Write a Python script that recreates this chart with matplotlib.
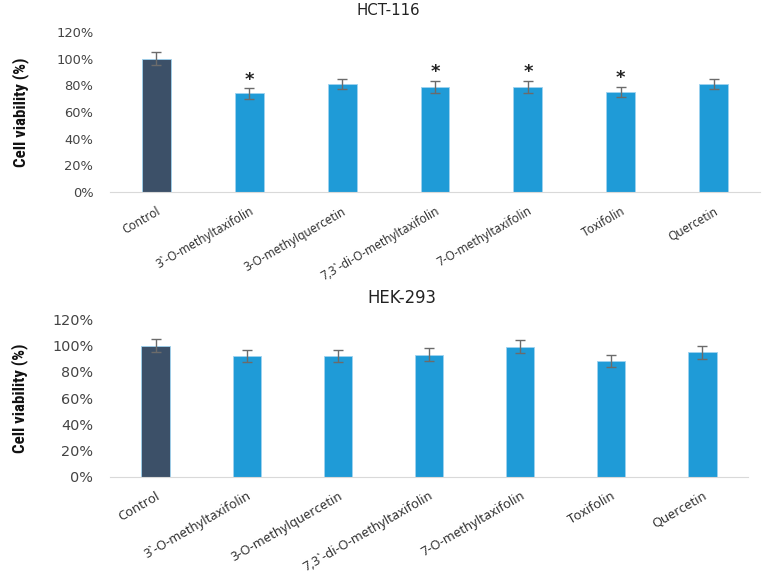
import matplotlib
matplotlib.use("Agg")
import matplotlib.pyplot as plt
import numpy as np
from matplotlib.ticker import FuncFormatter
from matplotlib import font_manager

categories = ["Control", "3`-O-methyltaxifolin", "3-O-methylquercetin",
              "7,3`-di-O-methyltaxifolin", "7-O-methyltaxifolin", "Toxifolin", "Quercetin"]
hct_values = [100, 74, 81, 79, 79, 75, 81]
hct_errors = [5, 4, 4, 4.5, 4.5, 4, 4]
hct_sig = [False, True, False, True, True, True, False]
hek_values = [100, 92, 92, 93, 99, 88, 95]
hek_errors = [5, 4.5, 4.5, 5, 5, 4.5, 5]
yticks = [0, 20, 40, 60, 80, 100, 120]

dark = "#3C5068"
blue = "#1F9BD7"
colors = [dark] + [blue] * 6

names = {f.name for f in font_manager.fontManager.ttflist}
narrow = None
for cand in ["Liberation Sans Narrow", "Arial Narrow", "Roboto Condensed", "Open Sans Condensed"]:
    if cand in names:
        narrow = cand
        break
label_font = ["Noto Sans", "DejaVu Sans"]

fig = plt.figure(figsize=(7.66, 5.77), dpi=100)
ax1 = fig.add_axes([0.1436, 0.667, 0.8486, 0.2773])
ax2 = fig.add_axes([0.1436, 0.1738, 0.833, 0.2728])

def draw(ax, vals, errs, title, scale, title_x, sig=None):
    x = np.arange(len(categories))
    ax.bar(x, vals, width=0.31, color=colors, edgecolor="#9fd3ef", linewidth=0.6, zorder=2)
    ax.errorbar(x, vals, yerr=errs, fmt="none", ecolor="#6b6b6b", elinewidth=1.0,
                capsize=3.5, capthick=1.0, zorder=3)
    if sig is not None:
        for xi, v, e, s in zip(x, vals, errs, sig):
            if s:
                ax.text(xi, v + e - 0.5, "*", ha="center", va="bottom",
                        fontsize=13, color="#222222", fontweight="bold",
                        family="DejaVu Sans")
    ax.set_xlim(-0.5, len(categories) - 0.5)
    ax.set_ylim(0, 120)
    ax.set_yticks(yticks)
    ax.yaxis.set_major_formatter(FuncFormatter(lambda v, p: f"{int(v)}%"))
    ax.set_xticks(x)
    ax.set_xticklabels(categories, rotation=30, ha="right", rotation_mode="anchor",
                       fontsize=8.5 * scale, color="#333333", family=label_font,
                       fontstyle="normal")
    for s in ["top", "right", "left"]:
        ax.spines[s].set_visible(False)
    ax.spines["bottom"].set_color("#d9d9d9")
    ax.tick_params(axis="both", length=0)
    ax.tick_params(axis="y", labelsize=9.4 * scale, colors="#444444", pad=12)
    ax.tick_params(axis="x", pad=9)
    if narrow:
        ax.set_ylabel("Cell viability (%)", family=[narrow, "DejaVu Sans"],
                      fontweight="bold", fontsize=12.2, color="#111111")
    else:
        ax.set_ylabel("Cell viability (%)", family="DejaVu Sans",
                      fontstretch="condensed", fontweight="bold", fontsize=10, color="#111111")
    ax.set_title(title, fontsize=10.8 * scale, color="#222222", pad=12,
                 family="DejaVu Sans", x=title_x)

# title centres: top at figure x≈388 px, bottom at ≈402 px
draw(ax1, hct_values, hct_errors, "HCT-116", 1.0, (388 - 110) / 650, hct_sig)
draw(ax2, hek_values, hek_errors, "HEK-293", 1.1, (402 - 110) / 638)
ax1.yaxis.set_label_coords(-0.125, 0.5)
ax2.yaxis.set_label_coords(-0.128, 0.5)

fig.savefig("out.png", dpi=100)
